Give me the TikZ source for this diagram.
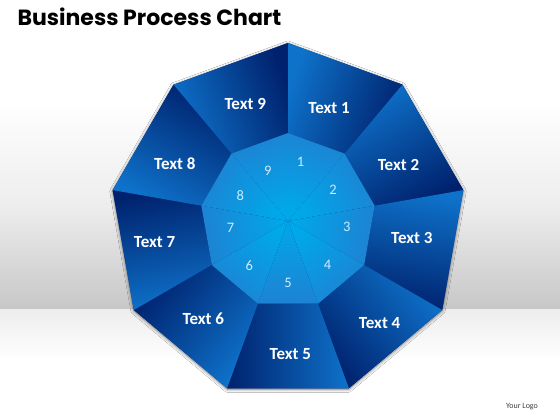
\documentclass[tikz,border=0pt]{standalone}
\usepackage{fontspec}
\setmainfont{Carlito}
\newfontfamily\titlefont{Poppins}
\usetikzlibrary{shadows.blur}
\definecolor{segLight}{RGB}{14,114,202}
\definecolor{segDark}{RGB}{0,34,110}
\definecolor{hubLight}{RGB}{0,168,234}
\definecolor{hubDark}{RGB}{30,130,210}
\definecolor{numCol}{RGB}{205,236,255}
\tikzset{
  seglabel/.style={font=\bfseries\fontsize{17}{19}\selectfont, text=white},
  hubnum/.style={font=\fontsize{14.5}{16}\selectfont, text=numCol},
}
\begin{document}
\begin{tikzpicture}[x=1pt,y=1pt]
\useasboundingbox (-288,-199) rectangle (272,221);
% backdrop and floor
\fill[white] (-288,-199) rectangle (272,221);
\shade[top color=white, bottom color=black!22, middle color=black!7] (-288,121) rectangle (272,-89);
\shade[top color=black!7, bottom color=white] (-288,-89) rectangle (272,-139);
\node[anchor=west, font=\titlefont\bfseries\fontsize{22}{25}\selectfont] (title) at (-274,204) {Business Process Chart};
\node[font=\fontsize{8}{10}\selectfont, text=black!75] (logo) at (234,-186) {Your Logo};
% nonagon
\fill[segDark, blur shadow={shadow xshift=0pt, shadow yshift=-1pt, shadow blur radius=3pt, shadow opacity=55}] (90:178) foreach \k in {1,...,8} {-- (90-40*\k:178)} -- cycle;
\foreach \i in {1,...,9} {
  \pgfmathsetmacro{\a}{90-40*(\i-1)}
  \pgfmathsetmacro{\b}{\a-40}
  \pgfmathsetmacro{\m}{\a-20}
  \shade[top color=segDark, bottom color=segLight, shading angle={\m-180}] (\a:88) -- (\a:178) -- (\b:178) -- (\b:88) -- cycle;
  \shade[top color=hubDark, bottom color=hubLight, shading angle={\m-90}] (0,0) -- (\a:88) -- (\b:88) -- cycle;
}
\foreach \i/\ta/\tr/\na/\nr in {1/70/120/78/60, 2/27/124/35/55, 3/-8/125/-6/59, 4/-48/137/-48/59, 5/-89/133/-90/62, 6/-131/129/-131/59, 7/189/135/187/58, 8/153/127/152/54, 9/110/125/112/54} {
  \node[seglabel] (t\i) at (\ta:\tr) {Text \i};
  \node[hubnum] (n\i) at (\na:\nr) {\i};
}
\end{tikzpicture}
\end{document}
